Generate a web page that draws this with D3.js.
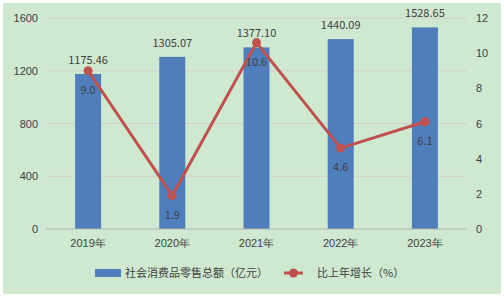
<!DOCTYPE html>
<html>
<head>
<meta charset="utf-8">
<script src="https://cdn.jsdelivr.net/npm/d3@7"></script>
<style>
  body { margin: 0; background: #fff; }
  svg { display: block; font-family: "Noto Sans CJK SC", "DejaVu Sans", sans-serif; }
</style>
</head>
<body>
<div id="chart"></div>
<script>
var years = ['2019年', '2020年', '2021年', '2022年', '2023年'];
var retail = [1175.46, 1305.07, 1377.10, 1440.09, 1528.65];
var growth = [9.0, 1.9, 10.6, 4.6, 6.1];
var leftTicks = [0, 400, 800, 1200, 1600];
var rightTicks = [0, 2, 4, 6, 8, 10, 12];

var W = 504, H = 297;
var plot = { left: 46, right: 467, top: 18, bottom: 229 };

var svg = d3.select('#chart').append('svg')
  .attr('width', W).attr('height', H);

svg.append('rect')
  .attr('x', 3).attr('y', 3).attr('width', W - 6).attr('height', H - 6)
  .attr('fill', '#cfe8d0');

var x = d3.scaleBand().domain(years).range([plot.left, plot.right]);
var yL = d3.scaleLinear().domain([0, 1600]).range([plot.bottom, plot.top]);
var yR = d3.scaleLinear().domain([0, 12]).range([plot.bottom, plot.top]);

// gridlines
svg.append('g').selectAll('line').data(leftTicks.slice(1)).enter().append('line')
  .attr('x1', plot.left).attr('x2', plot.right)
  .attr('y1', d => yL(d)).attr('y2', d => yL(d))
  .attr('stroke', '#d6cccc').attr('stroke-width', 1);

// left axis
var gl = svg.append('g')
  .attr('transform', 'translate(' + plot.left + ',0)')
  .call(d3.axisLeft(yL).tickValues(leftTicks).tickFormat(d3.format('d')).tickSize(0).tickPadding(8));
gl.select('.domain').remove();
gl.selectAll('text').attr('font-size', 11).attr('fill', '#404040').attr('font-family', null);

// right axis
var gr = svg.append('g')
  .attr('transform', 'translate(' + plot.right + ',0)')
  .call(d3.axisRight(yR).tickValues(rightTicks).tickSize(0).tickPadding(9));
gr.select('.domain').remove();
gr.selectAll('text').attr('font-size', 11).attr('fill', '#404040').attr('font-family', null);

// bars
var barW = 26;
svg.append('g').selectAll('rect').data(retail).enter().append('rect')
  .attr('x', (d, i) => x(years[i]) + x.bandwidth() / 2 - barW / 2)
  .attr('y', d => yL(d))
  .attr('width', barW)
  .attr('height', d => yL(0) - yL(d))
  .attr('fill', '#4f7ebd');

// base axis line
svg.append('line')
  .attr('x1', plot.left).attr('x2', plot.right)
  .attr('y1', yL(0)).attr('y2', yL(0))
  .attr('stroke', '#b4b4b4').attr('stroke-width', 1);

// x labels
var gx = svg.append('g')
  .attr('transform', 'translate(0,' + plot.bottom + ')')
  .call(d3.axisBottom(x).tickSize(0).tickPadding(10));
gx.select('.domain').remove();
gx.selectAll('text').attr('font-size', 11).attr('fill', '#404040').attr('font-family', null);

// bar labels
svg.append('g').selectAll('text').data(retail).enter().append('text')
  .attr('x', (d, i) => x(years[i]) + x.bandwidth() / 2)
  .attr('y', d => yL(d) - 10)
  .attr('text-anchor', 'middle')
  .attr('font-size', 11).attr('fill', '#404040')
  .text(d => d.toFixed(2));

// line
var line = d3.line()
  .x((d, i) => x(years[i]) + x.bandwidth() / 2)
  .y(d => yR(d));
svg.append('path').datum(growth)
  .attr('d', line)
  .attr('fill', 'none').attr('stroke', '#c0504d').attr('stroke-width', 3);

svg.append('g').selectAll('circle').data(growth).enter().append('circle')
  .attr('cx', (d, i) => x(years[i]) + x.bandwidth() / 2)
  .attr('cy', d => yR(d))
  .attr('r', 4.5)
  .attr('fill', '#c0504d');

svg.append('g').selectAll('text').data(growth).enter().append('text')
  .attr('x', (d, i) => x(years[i]) + x.bandwidth() / 2)
  .attr('y', d => yR(d) + 23)
  .attr('text-anchor', 'middle')
  .attr('font-size', 11).attr('fill', '#404040')
  .text(d => d.toFixed(1));

// legend
var lg = svg.append('g');
lg.append('rect').attr('x', 95).attr('y', 269).attr('width', 26).attr('height', 8).attr('fill', '#4f7ebd');
lg.append('text').attr('x', 125).attr('y', 277).attr('font-size', 11).attr('fill', '#404040')
  .text('社会消费品零售总额（亿元）');
lg.append('line').attr('x1', 284).attr('x2', 303).attr('y1', 273).attr('y2', 273)
  .attr('stroke', '#c0504d').attr('stroke-width', 3);
lg.append('circle').attr('cx', 293.5).attr('cy', 273).attr('r', 4.5).attr('fill', '#c0504d');
lg.append('text').attr('x', 317).attr('y', 277).attr('font-size', 11).attr('fill', '#404040')
  .text('比上年增长（%）');
</script>
</body>
</html>
